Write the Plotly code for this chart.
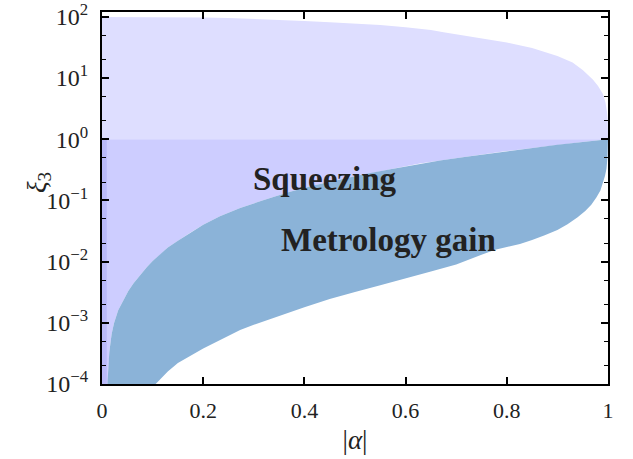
import plotly.graph_objects as go

# Squeezing region, upper boundary (above xi=1)
alpha_up = [0, 0.1, 0.2, 0.25, 0.3, 0.35, 0.4, 0.45, 0.5, 0.55, 0.6, 0.625, 0.65, 0.675,
            0.7, 0.725, 0.75, 0.8, 0.85, 0.9, 0.93, 0.95, 0.97, 0.98, 0.99, 0.995,
            0.998, 0.9995, 1.0]
sq_upper = [100, 100, 98, 96, 93, 89, 86, 82, 79, 74, 68, 65, 61, 56,
            52, 48, 45, 38, 31, 23, 18, 13.5, 9.5, 7.5, 5.5, 4.0,
            2.8, 2.0, 1.0]

# Metrology gain region, upper boundary
alpha_mu = [0, 0.007, 0.0105, 0.0144, 0.019, 0.0237, 0.032, 0.042, 0.052, 0.062, 0.075,
            0.088, 0.1, 0.115, 0.13, 0.15, 0.175, 0.2, 0.233, 0.273, 0.32, 0.37, 0.42,
            0.47, 0.52, 0.57, 0.628, 0.668, 0.72, 0.8, 0.85, 0.9, 0.95, 1.0]
mg_upper = [1e-6, 3e-5, 1.0e-4, 3.3e-4, 6.5e-4, 9.8e-4, 1.6e-3, 2.3e-3, 3.3e-3, 4.4e-3, 6.0e-3,
            8.0e-3, 1.02e-2, 1.3e-2, 1.7e-2, 2.2e-2, 3.0e-2, 4.0e-2, 5.5e-2, 7.5e-2, 0.102, 0.137,
            0.177, 0.22, 0.27, 0.325, 0.4, 0.45, 0.52, 0.64, 0.72, 0.81, 0.9, 1.0]

# Metrology gain region, lower boundary
alpha_ml = [0.01, 0.05, 0.08, 0.105, 0.13, 0.15, 0.175, 0.2, 0.233, 0.273, 0.3, 0.35, 0.4,
            0.45, 0.5, 0.55, 0.6, 0.627, 0.65, 0.7, 0.75, 0.777, 0.8, 0.826, 0.85, 0.875,
            0.9, 0.92, 0.94, 0.955, 0.967, 0.977, 0.985, 0.99, 0.994, 0.997, 0.999, 1.0]
mg_lower = [1e-6, 2.4e-5, 6e-5, 1.0e-4, 1.6e-4, 2.2e-4, 2.9e-4, 3.8e-4, 5.2e-4, 7.6e-4,
            9.3e-4, 1.3e-3, 1.8e-3, 2.45e-3, 3.2e-3, 4.1e-3, 5.3e-3, 6.1e-3, 6.9e-3, 9.0e-3,
            1.3e-2, 1.56e-2, 1.74e-2, 1.95e-2, 2.25e-2, 2.7e-2, 3.3e-2, 4.1e-2, 5.3e-2, 6.7e-2,
            8.5e-2, 0.112, 0.145, 0.19, 0.25, 0.33, 0.5, 1.0]

# thin strip near alpha = 0
strip_alpha = [0, 0.0095]

x_ticks = [0, 0.2, 0.4, 0.6, 0.8, 1]
x_ticktext = ["0", "0.2", "0.4", "0.6", "0.8", "1"]
y_ticks = [1e-4, 1e-3, 1e-2, 1e-1, 1, 10, 100]
y_ticktext = ["10<sup>−4</sup>", "10<sup>−3</sup>", "10<sup>−2</sup>", "10<sup>−1</sup>",
              "10<sup>0</sup>", "10<sup>1</sup>", "10<sup>2</sup>"]

C_UP = "#dedeff"
C_MID = "#cdcdff"
C_STRIP = "#babaf9"
C_BLUE = "#8bb3d8"

fig = go.Figure()

fig.add_trace(go.Scatter(
    x=alpha_up + alpha_up[::-1],
    y=sq_upper + [1.0] * len(alpha_up),
    fill="toself", fillcolor=C_UP, line=dict(width=0), mode="lines",
    hoverinfo="skip", showlegend=False))

fig.add_trace(go.Scatter(
    x=alpha_mu + alpha_mu[::-1],
    y=[1.0] * len(alpha_mu) + mg_upper[::-1],
    fill="toself", fillcolor=C_MID, line=dict(width=0), mode="lines",
    hoverinfo="skip", showlegend=False))

fig.add_trace(go.Scatter(
    x=[strip_alpha[0], strip_alpha[1], strip_alpha[1], strip_alpha[0]],
    y=[1e-7, 1e-7, 1.0, 1.0],
    fill="toself", fillcolor=C_STRIP, line=dict(width=0), mode="lines",
    hoverinfo="skip", showlegend=False))

fig.add_trace(go.Scatter(
    x=alpha_mu[1:] + alpha_ml[::-1],
    y=mg_upper[1:] + mg_lower[::-1],
    fill="toself", fillcolor=C_BLUE, line=dict(width=0), mode="lines",
    hoverinfo="skip", showlegend=False))

FONT = "Liberation Serif, DejaVu Serif, serif"
TXT = "#222222"

fig.add_annotation(x=0.44, y=-0.65, xref="x", yref="y", text="<b>Squeezing</b>",
                   xanchor="center", yanchor="middle",
                   showarrow=False, font=dict(family=FONT, size=33, color=TXT))
fig.add_annotation(x=0.566, y=-1.64, xref="x", yref="y", text="<b>Metrology gain</b>",
                   xanchor="center", yanchor="middle",
                   showarrow=False, font=dict(family=FONT, size=33, color=TXT))
fig.add_annotation(x=-0.126, y=-0.71, xref="paper", yref="y", text="<i>ξ</i><sub>3</sub>",
                   xanchor="center", yanchor="middle",
                   textangle=-90, showarrow=False, font=dict(family=FONT, size=27, color=TXT))

fig.update_layout(
    width=633, height=459,
    margin=dict(l=102, r=25, t=12, b=75, autoexpand=False),
    paper_bgcolor="white", plot_bgcolor="white",
    font=dict(family=FONT, size=20, color=TXT),
    xaxis=dict(range=[0, 1], tickvals=x_ticks, ticktext=x_ticktext, automargin=False,
               ticks="inside", ticklen=7, tickwidth=1.5, tickcolor="black",
               showline=True, linewidth=2, linecolor="black", mirror="allticks",
               showgrid=False, zeroline=False, ticklabelstandoff=6,
               tickfont=dict(family=FONT, size=22, color=TXT),
               title=dict(text="|<i>α</i>|", font=dict(family=FONT, size=27, color=TXT), standoff=8)),
    yaxis=dict(type="log", range=[-4, 2.08], tickvals=y_ticks, ticktext=y_ticktext, automargin=False,
               ticks="inside", ticklen=7, tickwidth=1.5, tickcolor="black",
               showline=True, linewidth=2, linecolor="black", mirror="allticks",
               showgrid=False, zeroline=False, ticklabelstandoff=7,
               tickfont=dict(family=FONT, size=24, color=TXT),
               minor=dict(ticks="inside", ticklen=4, tickwidth=1, tickcolor="black", showgrid=False)),
)

fig.write_html("out.html")
